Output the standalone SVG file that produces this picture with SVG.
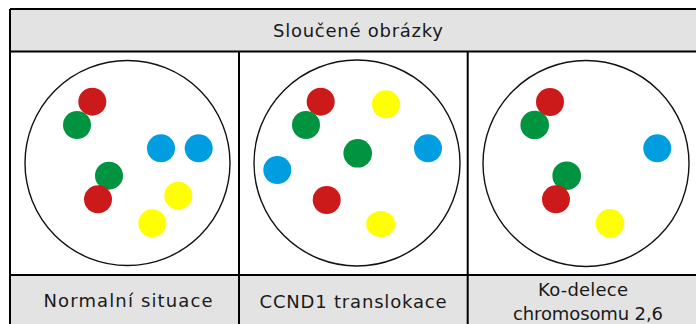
<svg xmlns="http://www.w3.org/2000/svg" width="696" height="324" viewBox="0 0 696 324">
<style>
.hdr{fill:#e3e3e3}
.grid{stroke:#000;stroke-width:2;fill:none}
.cell{fill:none;stroke:#111;stroke-width:1.4}
.r{fill:#cc1a1b}.g{fill:#009440}.b{fill:#009ee0}.y{fill:#ffff00}
text{font-family:"DejaVu Sans","Liberation Sans",sans-serif;font-size:18px;fill:#1a1a1a;text-anchor:middle}
</style>
<rect x="0" y="0" width="696" height="324" fill="#fff"/>
<rect class="hdr" x="10" y="9" width="700" height="42.5"/>
<rect class="hdr" x="10" y="275" width="700" height="60"/>
<g id="grid" class="grid">
<path d="M10 9H710M10 51.5H710M10 275H710M10 9V330M239 51.5V330M467.7 51.5V330"/>
</g>
<g id="header"><text x="358" y="37" textLength="170" lengthAdjust="spacing">Sloučené obrázky</text></g>
<g id="panel1">
<circle class="cell" cx="127.5" cy="163" r="102.5"/>
<circle class="r" cx="92.3" cy="101.7" r="14"/>
<circle class="g" cx="77" cy="125" r="14"/>
<circle class="b" cx="161" cy="148.3" r="14"/>
<circle class="b" cx="198.7" cy="148.3" r="14"/>
<circle class="g" cx="109" cy="175.7" r="14"/>
<circle class="r" cx="98" cy="199.3" r="14"/>
<circle class="y" cx="178.3" cy="195.7" r="14"/>
<circle class="y" cx="152.3" cy="223.3" r="14"/>
<text x="128" y="307" textLength="169" lengthAdjust="spacing">Normalní situace</text>
</g>
<g id="panel2">
<circle class="cell" cx="357" cy="163" r="103"/>
<circle class="r" cx="320.7" cy="101.7" r="14"/>
<circle class="y" cx="386" cy="104.3" r="14"/>
<circle class="g" cx="306" cy="125" r="14"/>
<circle class="g" cx="357.7" cy="153.3" r="14.3"/>
<circle class="b" cx="428" cy="148.3" r="14"/>
<circle class="b" cx="277.3" cy="170" r="14"/>
<circle class="r" cx="326.7" cy="200" r="14"/>
<ellipse class="y" cx="380.7" cy="224" rx="14.5" ry="13"/>
<text x="353" y="308" textLength="187" lengthAdjust="spacing">CCND1 translokace</text>
</g>
<g id="panel3">
<circle class="cell" cx="586" cy="163.5" r="103"/>
<circle class="r" cx="550" cy="102" r="14"/>
<circle class="g" cx="534.7" cy="125" r="14.3"/>
<circle class="b" cx="657.3" cy="148.3" r="14"/>
<circle class="g" cx="566.7" cy="175.7" r="14.3"/>
<circle class="r" cx="556" cy="199.3" r="14"/>
<circle class="y" cx="610" cy="223.3" r="14.3"/>
<text x="583" y="296" textLength="90" lengthAdjust="spacing">Ko-delece</text>
<text x="588" y="320" textLength="150" lengthAdjust="spacing">chromosomu 2,6</text>
</g>
</svg>
